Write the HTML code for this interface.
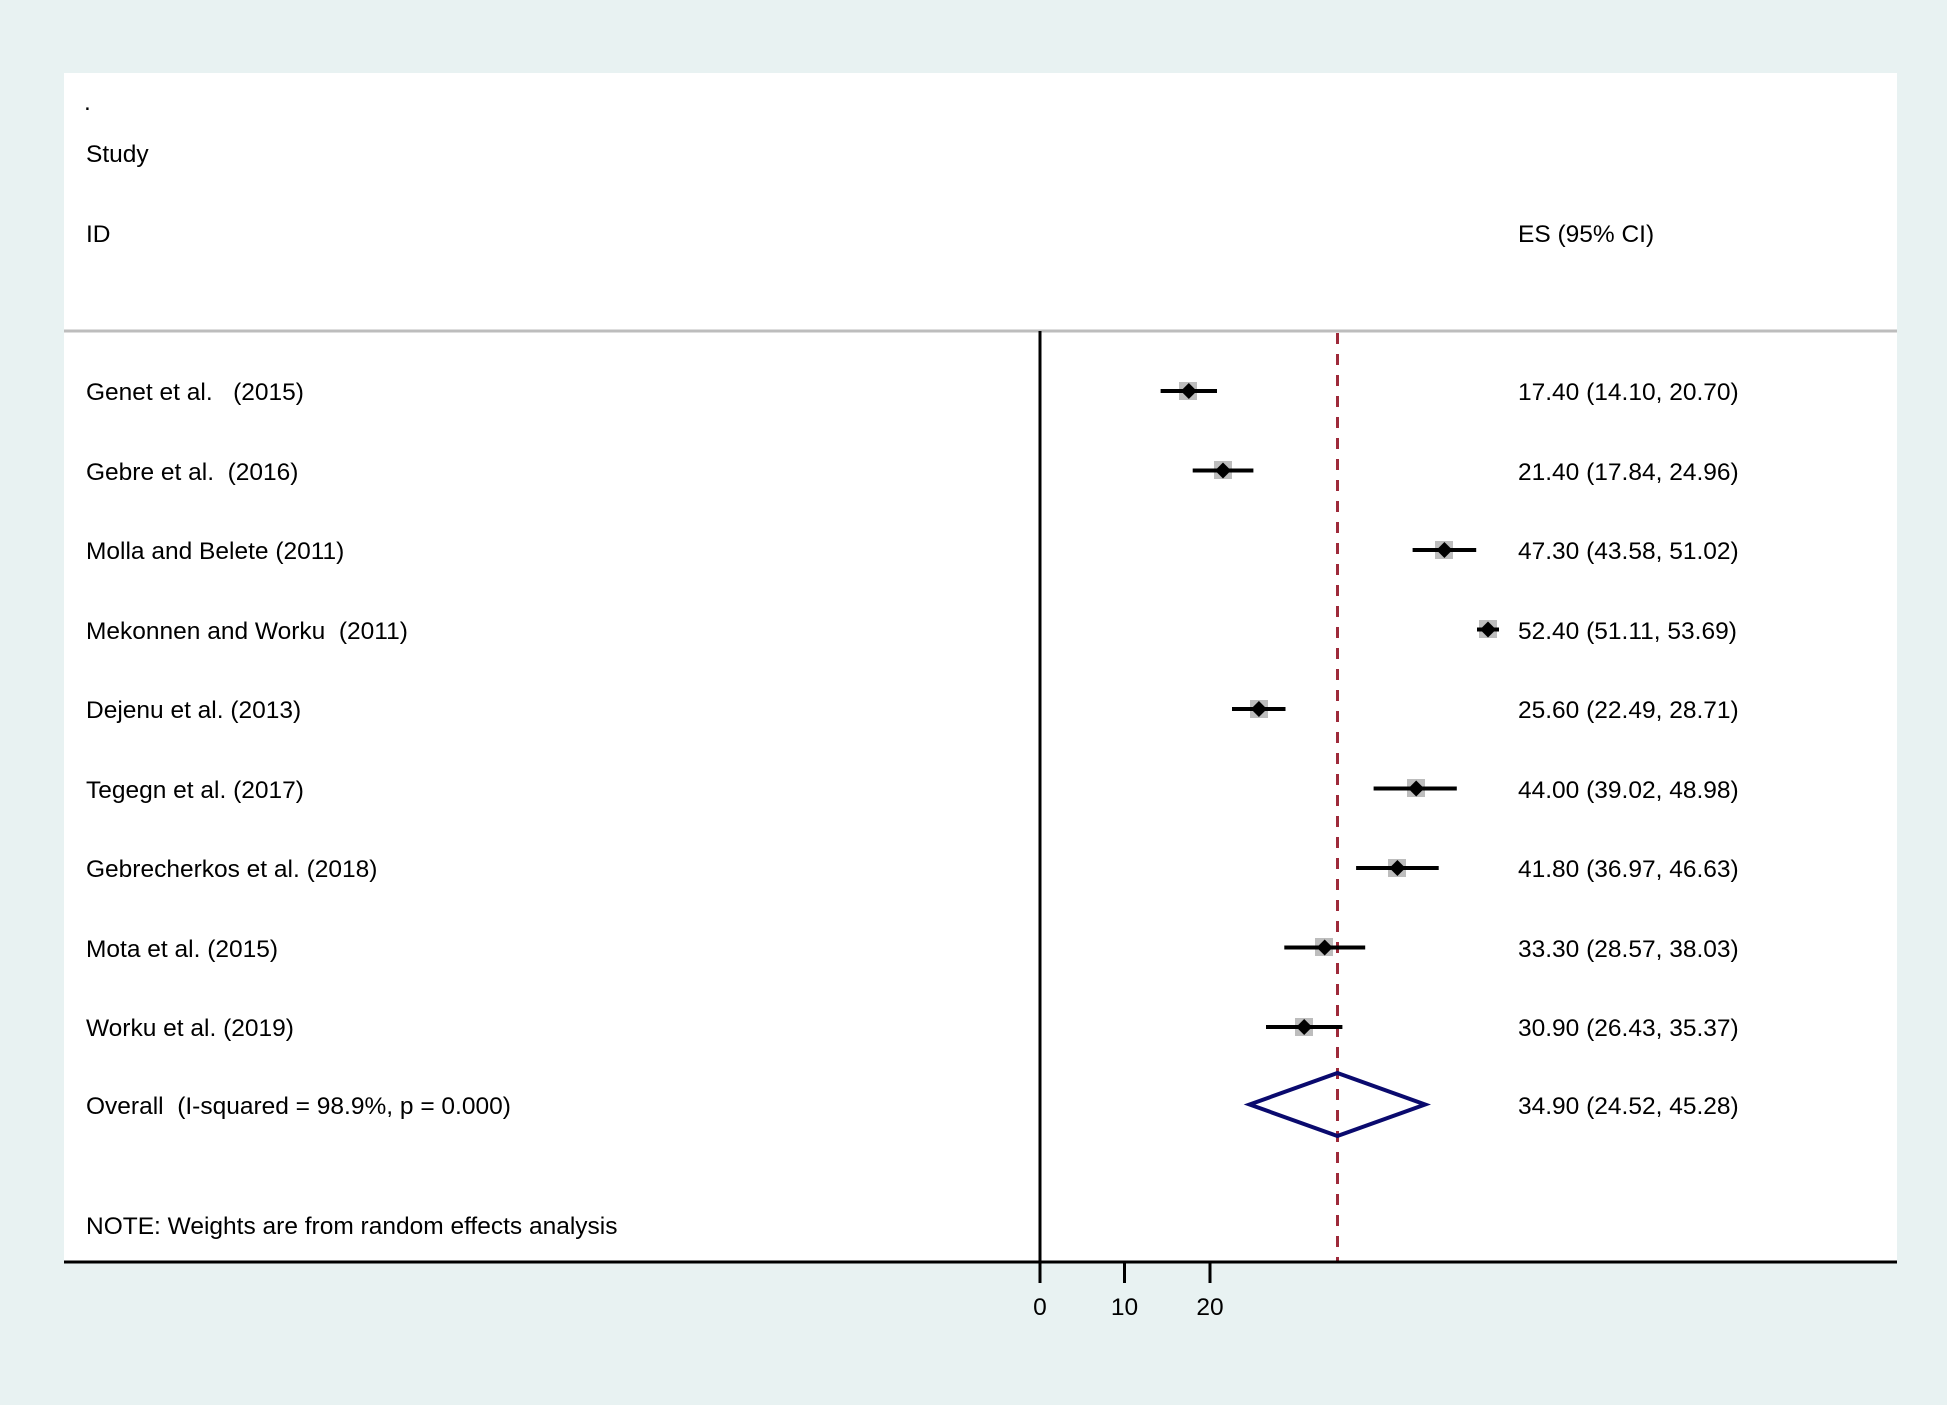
<!DOCTYPE html>
<html><head><meta charset="utf-8"><style>
html,body{margin:0;padding:0;background:#e8f2f2;}
svg{display:block;}
text{font-family:"Liberation Sans",Arial,sans-serif;font-size:24.5px;fill:#000;white-space:pre;}
</style></head><body>
<svg width="1947" height="1405" viewBox="0 0 1947 1405" xmlns="http://www.w3.org/2000/svg" xml:space="preserve">
<rect x="0" y="0" width="1947" height="1405" fill="#e8f2f2"/>
<rect x="64" y="73" width="1833" height="1189" fill="#ffffff"/>
<text x="84" y="110">.</text>
<text x="86" y="162">Study</text>
<text x="86" y="242">ID</text>
<text x="1518" y="242">ES (95% CI)</text>
<line x1="64" y1="331" x2="1897" y2="331" stroke="#bdbdbd" stroke-width="3"/>
<line x1="1040" y1="331" x2="1040" y2="1283" stroke="#000" stroke-width="3"/>
<line x1="1337.5" y1="333" x2="1337.5" y2="1261" stroke="#9e2a3a" stroke-width="3" stroke-dasharray="11,10"/>
<line x1="64" y1="1262" x2="1897" y2="1262" stroke="#000" stroke-width="3"/>
<line x1="1124.5" y1="1262" x2="1124.5" y2="1283" stroke="#000" stroke-width="3"/>
<line x1="1210" y1="1262" x2="1210" y2="1283" stroke="#000" stroke-width="3"/>
<text x="1040" y="1315" text-anchor="middle">0</text>
<text x="1124.5" y="1315" text-anchor="middle">10</text>
<text x="1210" y="1315" text-anchor="middle">20</text>
<rect x="1179" y="382" width="18" height="18" fill="#bdbdbd"/><line x1="1160.6" y1="391" x2="1217" y2="391" stroke="#000" stroke-width="4"/><polygon points="1188.8,383 1196.8,391 1188.8,399 1180.8,391" fill="#000"/>
<text x="86" y="400">Genet et al.   (2015)</text><text x="1518" y="400">17.40 (14.10, 20.70)</text>

<rect x="1214" y="461" width="18" height="18" fill="#bdbdbd"/><line x1="1192.7" y1="470.5" x2="1253.4" y2="470.5" stroke="#000" stroke-width="4"/><polygon points="1223,462.5 1231,470.5 1223,478.5 1215,470.5" fill="#000"/>
<text x="86" y="480">Gebre et al.  (2016)</text><text x="1518" y="480">21.40 (17.84, 24.96)</text>

<rect x="1435" y="541" width="18" height="18" fill="#bdbdbd"/><line x1="1412.6" y1="550" x2="1476.2" y2="550" stroke="#000" stroke-width="4"/><polygon points="1444.4,542 1452.4,550 1444.4,558 1436.4,550" fill="#000"/>
<text x="86" y="559">Molla and Belete (2011)</text><text x="1518" y="559">47.30 (43.58, 51.02)</text>

<rect x="1479" y="620" width="18" height="18" fill="#bdbdbd"/><line x1="1477" y1="629.5" x2="1499" y2="629.5" stroke="#000" stroke-width="4"/><polygon points="1488,621.5 1496,629.5 1488,637.5 1480,629.5" fill="#000"/>
<text x="86" y="639">Mekonnen and Worku  (2011)</text><text x="1518" y="639">52.40 (51.11, 53.69)</text>

<rect x="1250" y="700" width="18" height="18" fill="#bdbdbd"/><line x1="1232" y1="709" x2="1285.5" y2="709" stroke="#000" stroke-width="4"/><polygon points="1258.9,701 1266.9,709 1258.9,717 1250.9,709" fill="#000"/>
<text x="86" y="718">Dejenu et al. (2013)</text><text x="1518" y="718">25.60 (22.49, 28.71)</text>

<rect x="1407" y="779" width="18" height="18" fill="#bdbdbd"/><line x1="1373.6" y1="788.5" x2="1456.8" y2="788.5" stroke="#000" stroke-width="4"/><polygon points="1416.2,780.5 1424.2,788.5 1416.2,796.5 1408.2,788.5" fill="#000"/>
<text x="86" y="798">Tegegn et al. (2017)</text><text x="1518" y="798">44.00 (39.02, 48.98)</text>

<rect x="1388" y="859" width="18" height="18" fill="#bdbdbd"/><line x1="1356.1" y1="868" x2="1438.7" y2="868" stroke="#000" stroke-width="4"/><polygon points="1397.4,860 1405.4,868 1397.4,876 1389.4,868" fill="#000"/>
<text x="86" y="877">Gebrecherkos et al. (2018)</text><text x="1518" y="877">41.80 (36.97, 46.63)</text>

<rect x="1315" y="938" width="18" height="18" fill="#bdbdbd"/><line x1="1284.3" y1="947.5" x2="1365.2" y2="947.5" stroke="#000" stroke-width="4"/><polygon points="1324.7,939.5 1332.7,947.5 1324.7,955.5 1316.7,947.5" fill="#000"/>
<text x="86" y="957">Mota et al. (2015)</text><text x="1518" y="957">33.30 (28.57, 38.03)</text>

<rect x="1295" y="1018" width="18" height="18" fill="#bdbdbd"/><line x1="1266" y1="1027" x2="1342.4" y2="1027" stroke="#000" stroke-width="4"/><polygon points="1304.2,1019 1312.2,1027 1304.2,1035 1296.2,1027" fill="#000"/>
<text x="86" y="1036">Worku et al. (2019)</text><text x="1518" y="1036">30.90 (26.43, 35.37)</text>
<polygon points="1249.6,1104.5 1337.4,1073 1425.1,1104.5 1337.4,1136" fill="none" stroke="#0a0a6e" stroke-width="4"/>
<text x="86" y="1114">Overall  (I-squared = 98.9%, p = 0.000)</text><text x="1518" y="1114">34.90 (24.52, 45.28)</text>
<text x="86" y="1234">NOTE: Weights are from random effects analysis</text>
</svg>
</body></html>
